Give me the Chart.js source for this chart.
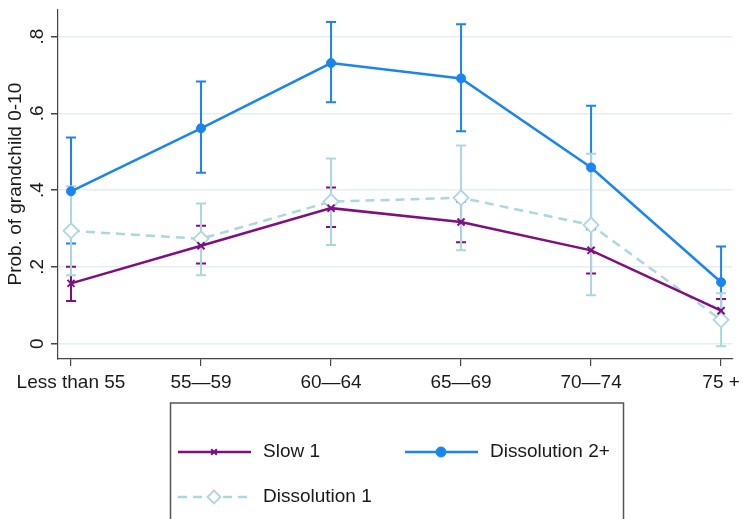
<!DOCTYPE html>
<html>
<head>
<meta charset="utf-8">
<script src="https://cdn.jsdelivr.net/npm/chart.js@4/dist/chart.umd.min.js"></script>
<style>
  html, body { margin: 0; padding: 0; background: #fff; }
  #wrap { width: 745px; height: 519px; }
</style>
</head>
<body>
<div id="wrap"><canvas id="grandChart" width="745" height="519"></canvas></div>
<script>
// categories and values
const categories = ['Less than 55', '55\u201459', '60\u201464', '65\u201469', '70\u201474', '75 +'];
const yTickVals = [0, 0.2, 0.4, 0.6, 0.8];
const yTickLabels = ['0', '.2', '.4', '.6', '.8'];

const slow1   = [0.157, 0.255, 0.353, 0.317, 0.243, 0.086];
const slow1Lo = [0.111, 0.209, 0.304, 0.264, 0.183, 0.056];
const slow1Hi = [0.200, 0.307, 0.407, 0.370, 0.303, 0.116];

const diss2   = [0.397, 0.561, 0.731, 0.691, 0.459, 0.160];
const diss2Lo = [0.261, 0.445, 0.629, 0.553, 0.298, 0.067];
const diss2Hi = [0.537, 0.683, 0.838, 0.832, 0.620, 0.253];

const diss1   = [0.294, 0.273, 0.370, 0.380, 0.309, 0.062];
const diss1Lo = [0.178, 0.178, 0.257, 0.243, 0.126, -0.007];
const diss1Hi = [0.410, 0.365, 0.482, 0.516, 0.495, 0.131];

const FONT = 'Liberation Sans, Arial, sans-serif';
const TXT = '#1a1a1a';

function pts(arr) { return arr.map((v, i) => ({x: i, y: v})); }

// confidence interval caps, drawn under the lines
const ciBars = {
    id: 'ciBars',
    beforeDatasetsDraw(chart) {
        const ctx = chart.ctx, xs = chart.scales.x, ys = chart.scales.y;
        chart.data.datasets.forEach(ds => {
            ctx.save();
            ctx.strokeStyle = ds.borderColor;
            ctx.lineWidth = 2;
            ctx.setLineDash([]);
            ds.ciLo.forEach((lo, i) => {
                const x = xs.getPixelForValue(i);
                const y1 = ys.getPixelForValue(lo), y2 = ys.getPixelForValue(ds.ciHi[i]);
                ctx.beginPath();
                ctx.moveTo(x, y1); ctx.lineTo(x, y2);
                ctx.moveTo(x - 5, y1); ctx.lineTo(x + 5, y1);
                ctx.moveTo(x - 5, y2); ctx.lineTo(x + 5, y2);
                ctx.stroke();
            });
            ctx.restore();
        });
    }
};

// rotated y tick labels and the framed legend
const extras = {
    id: 'extras',
    afterDraw(chart) {
        const ctx = chart.ctx, ys = chart.scales.y;
        ctx.save();
        ctx.fillStyle = TXT;
        ctx.font = '19px ' + FONT;
        ctx.textAlign = 'center';
        ctx.textBaseline = 'middle';
        yTickVals.forEach((v, i) => {
            ctx.save();
            ctx.translate(38, ys.getPixelForValue(v));
            ctx.rotate(-Math.PI / 2);
            ctx.fillText(yTickLabels[i], 0, 0);
            ctx.restore();
        });

        // legend box
        ctx.strokeStyle = '#555';
        ctx.lineWidth = 1.5;
        ctx.strokeRect(170.5, 403, 453, 140);
        const slots = [[178, 452], [405, 452], [178, 497]];
        chart.data.datasets.forEach((ds, i) => {
            const [x0, y0] = slots[i];
            ctx.save();
            ctx.strokeStyle = ds.borderColor;
            ctx.lineWidth = ds.borderWidth;
            ctx.setLineDash(ds.borderDash || []);
            ctx.beginPath();
            ctx.moveTo(x0, y0); ctx.lineTo(x0 + 73, y0);
            ctx.stroke();
            ctx.setLineDash([]);
            ctx.fillStyle = ds.pointBackgroundColor;
            ctx.strokeStyle = ds.pointBorderColor;
            ctx.lineWidth = ds.pointBorderWidth;
            Chart.helpers.drawPoint(ctx, {
                pointStyle: ds.pointStyle,
                radius: ds.legendRadius,
                borderWidth: ds.pointBorderWidth,
                rotation: 0
            }, x0 + 36, y0);
            ctx.restore();
            ctx.fillStyle = TXT;
            ctx.textAlign = 'left';
            ctx.fillText(ds.label, x0 + 85, y0);
        });
        ctx.restore();
    }
};

new Chart(document.getElementById('grandChart'), {
    type: 'line',
    data: {
        datasets: [{
            label: 'Slow 1',
            data: pts(slow1),
            ciLo: slow1Lo, ciHi: slow1Hi,
            borderColor: '#7f0f7e',
            backgroundColor: '#7f0f7e',
            borderWidth: 2.5,
            pointStyle: 'crossRot',
            pointRadius: 5,
            pointBorderWidth: 2,
            pointBorderColor: '#7f0f7e',
            pointBackgroundColor: '#7f0f7e',
            legendRadius: 4
        }, {
            label: 'Dissolution 2+',
            data: pts(diss2),
            ciLo: diss2Lo, ciHi: diss2Hi,
            borderColor: '#1a84ef',
            backgroundColor: '#1a84ef',
            borderWidth: 2.5,
            pointStyle: 'circle',
            pointRadius: 4.5,
            pointBorderWidth: 1,
            pointBorderColor: '#1a84ef',
            pointBackgroundColor: '#1a84ef',
            legendRadius: 5
        }, {
            label: 'Dissolution 1',
            data: pts(diss1),
            ciLo: diss1Lo, ciHi: diss1Hi,
            borderColor: '#add6e2',
            backgroundColor: '#ffffff',
            borderWidth: 2.5,
            borderDash: [9, 6],
            pointStyle: 'rectRot',
            pointRadius: 7.5,
            pointBorderWidth: 1.8,
            pointBorderColor: '#add6e2',
            pointBackgroundColor: '#ffffff',
            legendRadius: 6.5
        }]
    },
    options: {
        responsive: false,
        animation: false,
        clip: false,
        layout: { padding: { left: 0, right: 10, top: 5, bottom: 0 } },
        elements: { line: { tension: 0 } },
        plugins: { legend: { display: false }, tooltip: { enabled: false } },
        scales: {
            x: {
                type: 'linear',
                min: -0.1,
                max: 5.085,
                afterBuildTicks: s => { s.ticks = categories.map((c, i) => ({value: i})); },
                afterFit: s => { s.height = 160; },
                grid: { drawOnChartArea: false, drawTicks: true, tickLength: 7, tickColor: '#444', lineWidth: 1.2 },
                border: { color: '#444', width: 1.2 },
                ticks: {
                    autoSkip: false, maxRotation: 0, padding: 5, color: TXT,
                    font: { family: FONT, size: 19 },
                    callback: v => categories[v]
                }
            },
            y: {
                min: -0.04,
                max: 0.871,
                afterBuildTicks: s => { s.ticks = yTickVals.map(v => ({value: v})); },
                afterFit: s => { s.width = 58; },
                grid: { color: '#e4eff1', lineWidth: 1.5, drawTicks: true, tickLength: 7, tickColor: '#444' },
                border: { color: '#444', width: 1.2 },
                ticks: { display: false },
                title: {
                    display: true, text: 'Prob. of grandchild 0-10', color: TXT,
                    font: { family: FONT, size: 19 }, padding: { top: 4, bottom: 4 }
                }
            }
        }
    },
    plugins: [ciBars, extras]
});
</script>
</body>
</html>
